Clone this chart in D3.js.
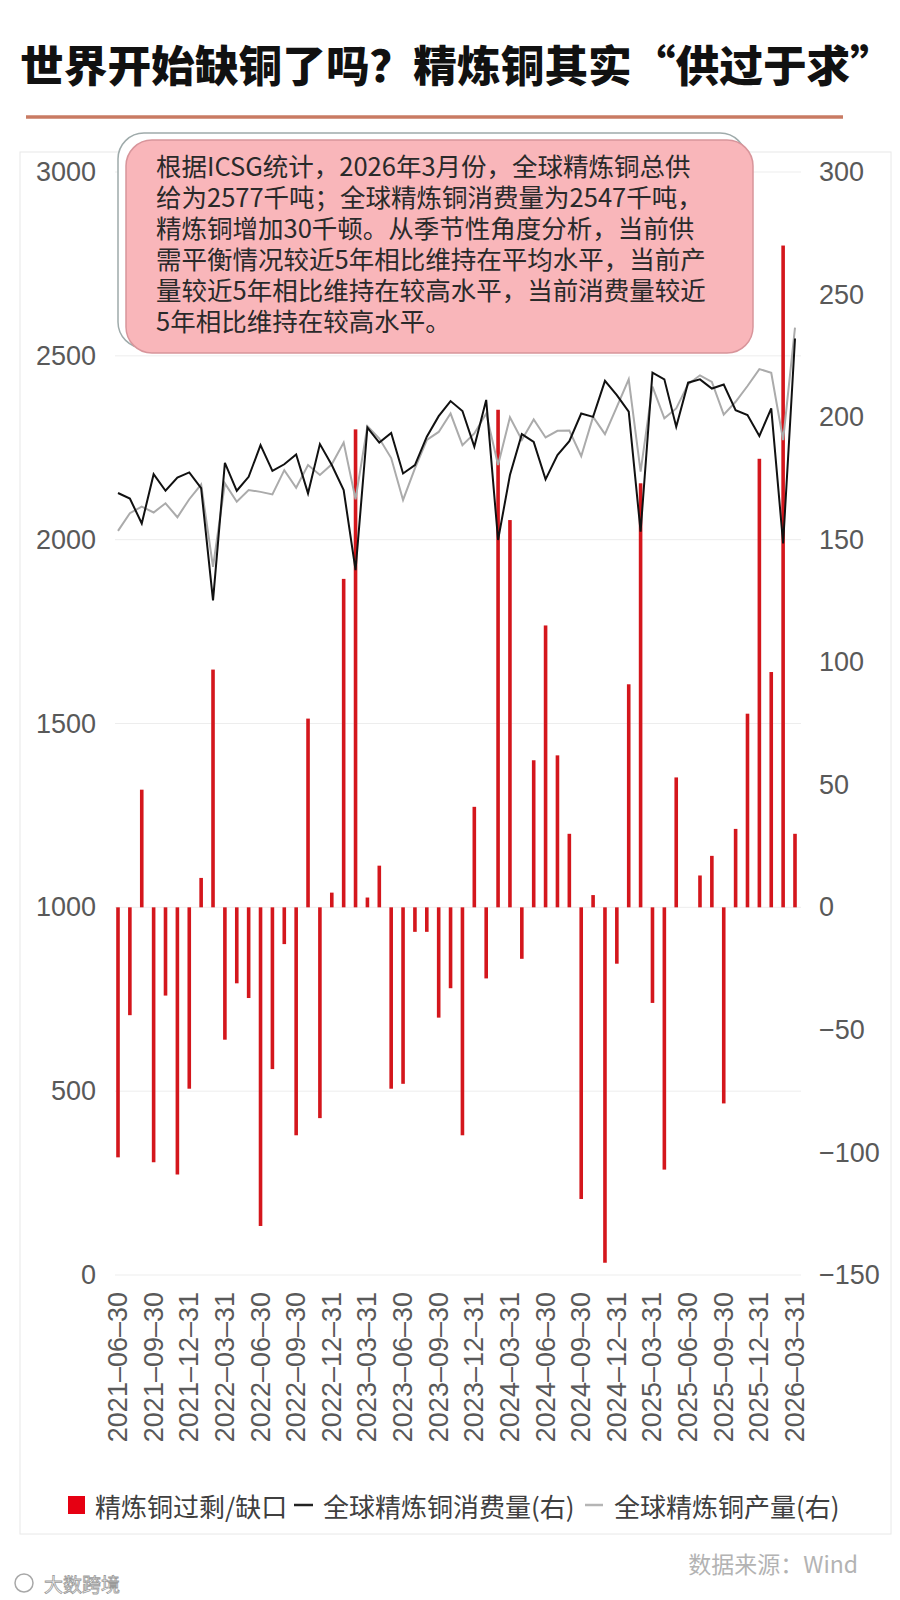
<!DOCTYPE html>
<html>
<head>
<meta charset="utf-8">
<script src="https://cdn.jsdelivr.net/npm/d3@7"></script>
<style>
  body { margin: 0; background: #fff; }
  svg { display: block; }
</style>
</head>
<body>
<svg id="chart"></svg>
<script>
// month-end categories
const dates = [
  "2021-06-30","2021-07-31","2021-08-31","2021-09-30","2021-10-31","2021-11-30","2021-12-31",
  "2022-01-31","2022-02-28","2022-03-31","2022-04-30","2022-05-31","2022-06-30","2022-07-31",
  "2022-08-31","2022-09-30","2022-10-31","2022-11-30","2022-12-31",
  "2023-01-31","2023-02-28","2023-03-31","2023-04-30","2023-05-31","2023-06-30","2023-07-31",
  "2023-08-31","2023-09-30","2023-10-31","2023-11-30","2023-12-31",
  "2024-01-31","2024-02-29","2024-03-31","2024-04-30","2024-05-31","2024-06-30","2024-07-31",
  "2024-08-31","2024-09-30","2024-10-31","2024-11-30","2024-12-31",
  "2025-01-31","2025-02-28","2025-03-31","2025-04-30","2025-05-31","2025-06-30","2025-07-31",
  "2025-08-31","2025-09-30","2025-10-31","2025-11-30","2025-12-31",
  "2026-01-31","2026-02-28","2026-03-31"
];

// 精炼铜过剩/缺口 (bars, right axis)
const surplus = [
  -102, -44, 48, -104, -36, -109, -74, 12, 97, -54, -31, -37, -130, -66, -15, -93, 77, -86, 6,
  134, 195, 4, 17, -74, -72, -10, -10, -45, -33, -93, 41, -29, 203, 158, -21, 60, 115, 62, 30,
  -119, 5, -145, -23, 91, 173, -39, -107, 53, 0, 13, 21, -80, 32, 79, 183, 96, 270, 30
];

// 全球精炼铜消费量 (black line)
const consumption = [
  2127, 2112, 2044, 2178, 2133, 2169, 2183, 2140, 1835, 2209, 2133, 2171, 2257, 2187, 2205, 2232, 2126, 2260, 2203,
  2135, 1917, 2305, 2264, 2290, 2180, 2203, 2280, 2336, 2377, 2350, 2253, 2380, 1999, 2176, 2287, 2266, 2164, 2230, 2268,
  2343, 2334, 2432, 2393, 2348, 2022, 2454, 2436, 2307, 2427, 2436, 2411, 2422, 2352, 2339, 2282, 2357, 1990, 2547
];

// 全球精炼铜产量 (gray line)
const production = [
  2024, 2072, 2090, 2074, 2099, 2061, 2110, 2150, 1926, 2153, 2103, 2135, 2130, 2123, 2189, 2141, 2203, 2176, 2205,
  2264, 2110, 2309, 2275, 2222, 2108, 2194, 2271, 2293, 2343, 2257, 2289, 2343, 2203, 2333, 2271, 2327, 2278, 2296, 2297,
  2227, 2334, 2287, 2361, 2436, 2185, 2416, 2330, 2357, 2423, 2447, 2429, 2340, 2375, 2418, 2464, 2454, 2271, 2577
];

const leftTicks = [0, 500, 1000, 1500, 2000, 2500, 3000];
const rightTicks = [-150, -100, -50, 0, 50, 100, 150, 200, 250, 300];
const xTickLabels = [
  "2021-06-30","2021-09-30","2021-12-31","2022-03-31","2022-06-30","2022-09-30","2022-12-31",
  "2023-03-31","2023-06-30","2023-09-30","2023-12-31","2024-03-31","2024-06-30","2024-09-30",
  "2024-12-31","2025-03-31","2025-06-30","2025-09-30","2025-12-31","2026-03-31"
];

const noteLines = [
  "根据ICSG统计，2026年3月份，全球精炼铜总供",
  "给为2577千吨；全球精炼铜消费量为2547千吨，",
  "精炼铜增加30千顿。从季节性角度分析，当前供",
  "需平衡情况较近5年相比维持在平均水平，当前产",
  "量较近5年相比维持在较高水平，当前消费量较近",
  "5年相比维持在较高水平。"
];

const W = 900, H = 1600;
const cjk = "'Noto Sans CJK SC', 'Noto Sans', sans-serif";
const latin = "'Liberation Sans', Arial, sans-serif";

const svg = d3.select("#chart").attr("width", W).attr("height", H);

// title
svg.append("text")
  .attr("x", 20).attr("y", 63)
  .attr("dominant-baseline", "central")
  .attr("font-family", cjk).attr("font-weight", 900).attr("font-size", 43)
  .attr("fill", "#111")
  .attr("textLength", 874).attr("lengthAdjust", "spacingAndGlyphs")
  .text("世界开始缺铜了吗？精炼铜其实“供过于求”");

svg.append("line")
  .attr("x1", 26).attr("x2", 843).attr("y1", 117).attr("y2", 117)
  .attr("stroke", "#c97b63").attr("stroke-width", 3.5);

// faint frame
svg.append("rect")
  .attr("x", 20).attr("y", 152).attr("width", 871).attr("height", 1382)
  .attr("fill", "none").attr("stroke", "#e8e8e8");

// scales
const x = d3.scalePoint().domain(dates).range([118, 795]);
const yL = d3.scaleLinear().domain([0, 3000]).range([1275, 172]);
const yR = d3.scaleLinear().domain([-150, 300]).range([1275, 172]);

// gridlines
svg.append("g").selectAll("line").data(leftTicks).join("line")
  .attr("x1", 115).attr("x2", 801)
  .attr("y1", d => yL(d)).attr("y2", d => yL(d))
  .attr("stroke", "#ededed").attr("stroke-width", 1);

// left axis
const axL = svg.append("g").attr("transform", "translate(96,0)")
  .call(d3.axisLeft(yL).tickValues(leftTicks).tickFormat(d3.format("d")).tickSize(0).tickPadding(0));
axL.select(".domain").remove();
axL.selectAll("text").attr("font-family", latin).attr("font-size", 27).attr("fill", "#595959");

// right axis
const axR = svg.append("g").attr("transform", "translate(819,0)")
  .call(d3.axisRight(yR).tickValues(rightTicks).tickSize(0).tickPadding(0));
axR.select(".domain").remove();
axR.selectAll("text").attr("font-family", latin).attr("font-size", 27).attr("fill", "#595959");

// x labels
svg.append("g").selectAll("text").data(xTickLabels).join("text")
  .attr("transform", d => `translate(${x(d)},1292) rotate(-90)`)
  .attr("text-anchor", "end").attr("dominant-baseline", "central")
  .attr("font-family", latin).attr("font-size", 27).attr("fill", "#595959")
  .text(d => d.replace(/-/g, "–"));

// bars
const bw = 3.6;
svg.append("g").selectAll("rect").data(surplus).join("rect")
  .attr("x", (d, i) => x(dates[i]) - bw / 2)
  .attr("y", d => yR(Math.max(0, d)))
  .attr("width", bw)
  .attr("height", d => Math.abs(yR(d) - yR(0)))
  .attr("fill", "#d4161c");

// lines
const line = d3.line().x((d, i) => x(dates[i])).y(d => yL(d));
svg.append("path").datum(production).attr("d", line)
  .attr("fill", "none").attr("stroke", "#ababab").attr("stroke-width", 2).attr("stroke-linejoin", "miter");
svg.append("path").datum(consumption).attr("d", line)
  .attr("fill", "none").attr("stroke", "#111").attr("stroke-width", 2).attr("stroke-linejoin", "miter");

// note box
svg.append("rect")
  .attr("x", 118).attr("y", 133).attr("width", 628).attr("height", 215).attr("rx", 26)
  .attr("fill", "#fff").attr("stroke", "#9fabab").attr("stroke-width", 1.5);
svg.append("rect")
  .attr("x", 126).attr("y", 140).attr("width", 627).attr("height", 213).attr("rx", 26)
  .attr("fill", "#f9b6ba").attr("stroke", "#d8959b").attr("stroke-width", 1.5);
const note = svg.append("text")
  .attr("font-family", cjk).attr("font-size", 25.5).attr("fill", "#2a2a2a");
note.selectAll("tspan").data(noteLines).join("tspan")
  .attr("x", 156).attr("y", (d, i) => 176 + i * 31)
  .text(d => d);

// legend
const lg = svg.append("g").attr("font-family", cjk).attr("font-size", 26).attr("fill", "#404040");
lg.append("rect").attr("x", 68).attr("y", 1496).attr("width", 17).attr("height", 18).attr("fill", "#e60012");
lg.append("text").attr("x", 95).attr("y", 1505).attr("dominant-baseline", "central").text("精炼铜过剩/缺口");
lg.append("line").attr("x1", 294).attr("x2", 313).attr("y1", 1505).attr("y2", 1505)
  .attr("stroke", "#222").attr("stroke-width", 2.5);
lg.append("text").attr("x", 323).attr("y", 1505).attr("dominant-baseline", "central").text("全球精炼铜消费量(右)");
lg.append("line").attr("x1", 585).attr("x2", 603).attr("y1", 1505).attr("y2", 1505)
  .attr("stroke", "#b5b5b5").attr("stroke-width", 2.5);
lg.append("text").attr("x", 614).attr("y", 1505).attr("dominant-baseline", "central").text("全球精炼铜产量(右)");

// source
svg.append("text")
  .attr("x", 858).attr("y", 1563).attr("text-anchor", "end").attr("dominant-baseline", "central")
  .attr("font-family", cjk).attr("font-size", 23).attr("fill", "#b3b3b3")
  .text("数据来源：Wind");

// watermark
svg.append("text")
  .attr("x", 44).attr("y", 1583).attr("dominant-baseline", "central")
  .attr("font-family", cjk).attr("font-size", 19).attr("fill", "#fff")
  .attr("stroke", "#9a9a9a").attr("stroke-width", 0.8)
  .text("大数跨境");
svg.append("circle").attr("cx", 24).attr("cy", 1583).attr("r", 9)
  .attr("fill", "none").attr("stroke", "#a8a8a8").attr("stroke-width", 1.5);
</script>
</body>
</html>
